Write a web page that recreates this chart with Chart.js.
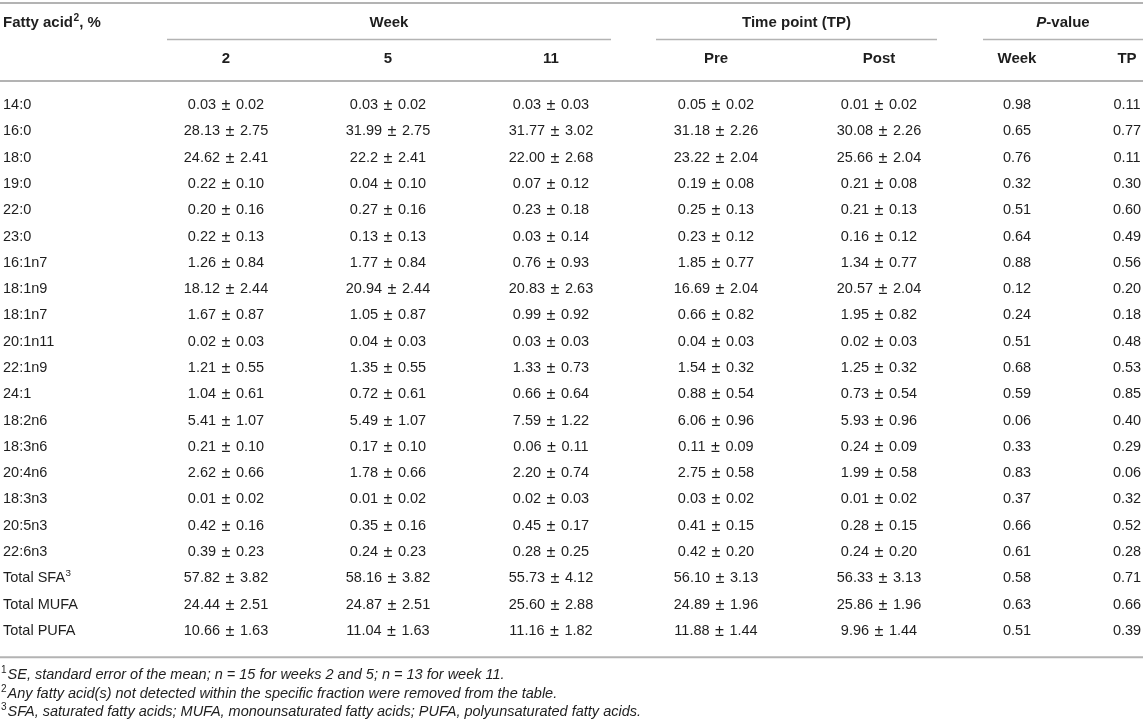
<!DOCTYPE html>
<html>
<head>
<meta charset="utf-8">
<script src="https://cdn.jsdelivr.net/npm/chart.js@4/dist/chart.umd.min.js"></script>
<style>
html,body{margin:0;padding:0;background:#fff;}
#c{display:block;}
</style>
</head>
<body>
<canvas id="c" width="1143" height="723"></canvas>
<script>
// ---------- DATA ----------
const fattyAcids = ['14:0','16:0','18:0','19:0','22:0','23:0','16:1n7','18:1n9','18:1n7','20:1n11','22:1n9','24:1','18:2n6','18:3n6','20:4n6','18:3n3','20:5n3','22:6n3','Total SFA','Total MUFA','Total PUFA'];
const labelSup = {'Total SFA':'3'};
const columnLabels = ['2','5','11','Pre','Post','Week','TP'];
const groupLabels = ['Week','Time point (TP)','P-value'];

const week2Mean  = ['0.03','28.13','24.62','0.22','0.20','0.22','1.26','18.12','1.67','0.02','1.21','1.04','5.41','0.21','2.62','0.01','0.42','0.39','57.82','24.44','10.66'];
const week2SE    = ['0.02','2.75','2.41','0.10','0.16','0.13','0.84','2.44','0.87','0.03','0.55','0.61','1.07','0.10','0.66','0.02','0.16','0.23','3.82','2.51','1.63'];
const week5Mean  = ['0.03','31.99','22.2','0.04','0.27','0.13','1.77','20.94','1.05','0.04','1.35','0.72','5.49','0.17','1.78','0.01','0.35','0.24','58.16','24.87','11.04'];
const week5SE    = ['0.02','2.75','2.41','0.10','0.16','0.13','0.84','2.44','0.87','0.03','0.55','0.61','1.07','0.10','0.66','0.02','0.16','0.23','3.82','2.51','1.63'];
const week11Mean = ['0.03','31.77','22.00','0.07','0.23','0.03','0.76','20.83','0.99','0.03','1.33','0.66','7.59','0.06','2.20','0.02','0.45','0.28','55.73','25.60','11.16'];
const week11SE   = ['0.03','3.02','2.68','0.12','0.18','0.14','0.93','2.63','0.92','0.03','0.73','0.64','1.22','0.11','0.74','0.03','0.17','0.25','4.12','2.88','1.82'];
const preMean    = ['0.05','31.18','23.22','0.19','0.25','0.23','1.85','16.69','0.66','0.04','1.54','0.88','6.06','0.11','2.75','0.03','0.41','0.42','56.10','24.89','11.88'];
const preSE      = ['0.02','2.26','2.04','0.08','0.13','0.12','0.77','2.04','0.82','0.03','0.32','0.54','0.96','0.09','0.58','0.02','0.15','0.20','3.13','1.96','1.44'];
const postMean   = ['0.01','30.08','25.66','0.21','0.21','0.16','1.34','20.57','1.95','0.02','1.25','0.73','5.93','0.24','1.99','0.01','0.28','0.24','56.33','25.86','9.96'];
const postSE     = ['0.02','2.26','2.04','0.08','0.13','0.12','0.77','2.04','0.82','0.03','0.32','0.54','0.96','0.09','0.58','0.02','0.15','0.20','3.13','1.96','1.44'];
const pWeek      = ['0.98','0.65','0.76','0.32','0.51','0.64','0.88','0.12','0.24','0.51','0.68','0.59','0.06','0.33','0.83','0.37','0.66','0.61','0.58','0.63','0.51'];
const pTP        = ['0.11','0.77','0.11','0.30','0.60','0.49','0.56','0.20','0.18','0.48','0.53','0.85','0.40','0.29','0.06','0.32','0.52','0.28','0.71','0.66','0.39'];

const footnotes = [
  ['1','SE, standard error of the mean; n = 15 for weeks 2 and 5; n = 13 for week 11.'],
  ['2','Any fatty acid(s) not detected within the specific fraction were removed from the table.'],
  ['3','SFA, saturated fatty acids; MUFA, monounsaturated fatty acids; PUFA, polyunsaturated fatty acids.']
];

// ---------- LAYOUT (not data) ----------
const colX = [226, 388, 551, 716, 879, 1017, 1127];       // column centres in x-scale units
const groupSpans = [[167, 611], [656, 937], [983, 1143]];  // group underline spans in x-scale units
const FONT = '"Liberation Sans", Arial, Helvetica, sans-serif';
const TXT = '#1e1e1e';
const LINE = '#b3b3b3';
const FS = 14.5;      // body text
const HFS = 15;       // bold header text
const NFS = 14.5;     // footnote text
const PM_GAP = 5.5;   // gap either side of the ± sign
const PM_SCALE = 1.12;

const cellParts = [
  fattyAcids.map((_, i) => [week2Mean[i], week2SE[i]]),
  fattyAcids.map((_, i) => [week5Mean[i], week5SE[i]]),
  fattyAcids.map((_, i) => [week11Mean[i], week11SE[i]]),
  fattyAcids.map((_, i) => [preMean[i], preSE[i]]),
  fattyAcids.map((_, i) => [postMean[i], postSE[i]]),
  pWeek.map(v => [v]),
  pTP.map(v => [v])
];

const datasets = columnLabels.map((lab, j) => ({
  label: lab,
  data: fattyAcids.map(fa => ({x: colX[j], y: fa})),
  pointRadius: 0,
  pointHoverRadius: 0,
  showLine: false
}));

function hline(ctx, x1, x2, y, w, color) {
  ctx.save();
  ctx.strokeStyle = color; ctx.lineWidth = w;
  ctx.beginPath(); ctx.moveTo(x1, y); ctx.lineTo(x2, y); ctx.stroke();
  ctx.restore();
}

function drawCell(ctx, parts, cx, y) {
  ctx.textAlign = 'left';
  const base = FS + 'px ' + FONT;
  const pmFont = (FS * PM_SCALE) + 'px ' + FONT;
  ctx.font = base;
  if (parts.length === 1) {
    const w = ctx.measureText(parts[0]).width;
    ctx.fillText(parts[0], cx - w / 2, y);
    return;
  }
  const wm = ctx.measureText(parts[0]).width;
  const ws = ctx.measureText(parts[1]).width;
  ctx.font = pmFont;
  const wp = ctx.measureText('\u00b1').width;
  const total = wm + PM_GAP + wp + PM_GAP + ws;
  let x = cx - total / 2;
  ctx.font = base;
  ctx.fillText(parts[0], x, y); x += wm + PM_GAP;
  ctx.font = pmFont;
  ctx.fillText('\u00b1', x, y + 0.5); x += wp + PM_GAP;
  ctx.font = base;
  ctx.fillText(parts[1], x, y);
}

const tablePlugin = {
  id: 'tablePlugin',
  afterDatasetsDraw(chart) {
    const ctx = chart.ctx;
    const xs = chart.scales.x, ys = chart.scales.y;
    ctx.save();
    ctx.fillStyle = TXT;
    ctx.textBaseline = 'middle';

    // rules
    const left = xs.getPixelForValue(0), right = xs.getPixelForValue(1143);
    hline(ctx, left, right, 3, 2, LINE);
    groupSpans.forEach(s => hline(ctx, xs.getPixelForValue(s[0]), xs.getPixelForValue(s[1]), 39.5, 1.5, LINE));
    hline(ctx, left, right, 81, 2, LINE);
    const lastY = ys.getPixelForValue(fattyAcids.length - 1);
    const step = ys.getPixelForValue(1) - ys.getPixelForValue(0);
    hline(ctx, left, right, lastY + step, 2, LINE);

    // header row 1
    const h1 = 23, h2 = 59;
    ctx.font = 'bold ' + HFS + 'px ' + FONT;
    ctx.textAlign = 'left';
    let x = 3;
    ctx.fillText('Fatty acid', x, h1); x += ctx.measureText('Fatty acid').width;
    ctx.font = 'bold ' + (HFS * 0.68) + 'px ' + FONT;
    ctx.fillText('2', x + 0.5, h1 - 5); x += ctx.measureText('2').width + 0.5;
    ctx.font = 'bold ' + HFS + 'px ' + FONT;
    ctx.fillText(', %', x, h1);

    ctx.textAlign = 'center';
    [0, 1].forEach(g => {
      const cx = (xs.getPixelForValue(groupSpans[g][0]) + xs.getPixelForValue(groupSpans[g][1])) / 2;
      ctx.fillText(groupLabels[g], cx, h1);
    });
    // P-value with italic P
    {
      const cx = (xs.getPixelForValue(groupSpans[2][0]) + xs.getPixelForValue(groupSpans[2][1])) / 2;
      ctx.font = 'italic bold ' + HFS + 'px ' + FONT;
      const wP = ctx.measureText('P').width;
      ctx.font = 'bold ' + HFS + 'px ' + FONT;
      const wR = ctx.measureText('-value').width;
      const sx = cx - (wP + wR) / 2;
      ctx.textAlign = 'left';
      ctx.font = 'italic bold ' + HFS + 'px ' + FONT;
      ctx.fillText('P', sx, h1);
      ctx.font = 'bold ' + HFS + 'px ' + FONT;
      ctx.fillText('-value', sx + wP, h1);
    }
    // header row 2
    ctx.textAlign = 'center';
    ctx.font = 'bold ' + HFS + 'px ' + FONT;
    columnLabels.forEach((lab, j) => ctx.fillText(lab, xs.getPixelForValue(colX[j]), h2));

    // row labels
    ctx.textAlign = 'left';
    fattyAcids.forEach((fa, i) => {
      const y = ys.getPixelForValue(i);
      ctx.font = FS + 'px ' + FONT;
      ctx.fillText(fa, 3, y);
      if (labelSup[fa]) {
        const w = ctx.measureText(fa).width;
        ctx.font = (FS * 0.68) + 'px ' + FONT;
        ctx.fillText(labelSup[fa], 3 + w + 0.5, y - 5);
      }
    });

    // cells through dataset elements
    chart.data.datasets.forEach((ds, j) => {
      const meta = chart.getDatasetMeta(j);
      meta.data.forEach((el, i) => drawCell(ctx, cellParts[j][i], el.x, el.y));
    });

    // footnotes
    const fy0 = lastY + step + 18, fstep = 18.5;
    footnotes.forEach((fn, k) => {
      const y = fy0 + k * fstep;
      ctx.textAlign = 'left';
      ctx.font = '10px ' + FONT;
      ctx.fillText(fn[0], 1, y - 4.5);
      const w = ctx.measureText(fn[0]).width;
      ctx.font = 'italic ' + NFS + 'px ' + FONT;
      ctx.fillText(fn[1], 1 + w + 1, y);
    });
    ctx.restore();
  }
};

new Chart(document.getElementById('c'), {
  type: 'scatter',
  data: { datasets },
  options: {
    responsive: false,
    animation: false,
    events: [],
    layout: { padding: { top: 92, bottom: 79, left: 0, right: 0 } },
    plugins: { legend: { display: false }, tooltip: { enabled: false } },
    scales: {
      x: { type: 'linear', min: 0, max: 1143, display: false },
      y: { type: 'category', labels: fattyAcids, offset: true, display: false }
    }
  },
  plugins: [tablePlugin]
});
</script>
</body>
</html>
